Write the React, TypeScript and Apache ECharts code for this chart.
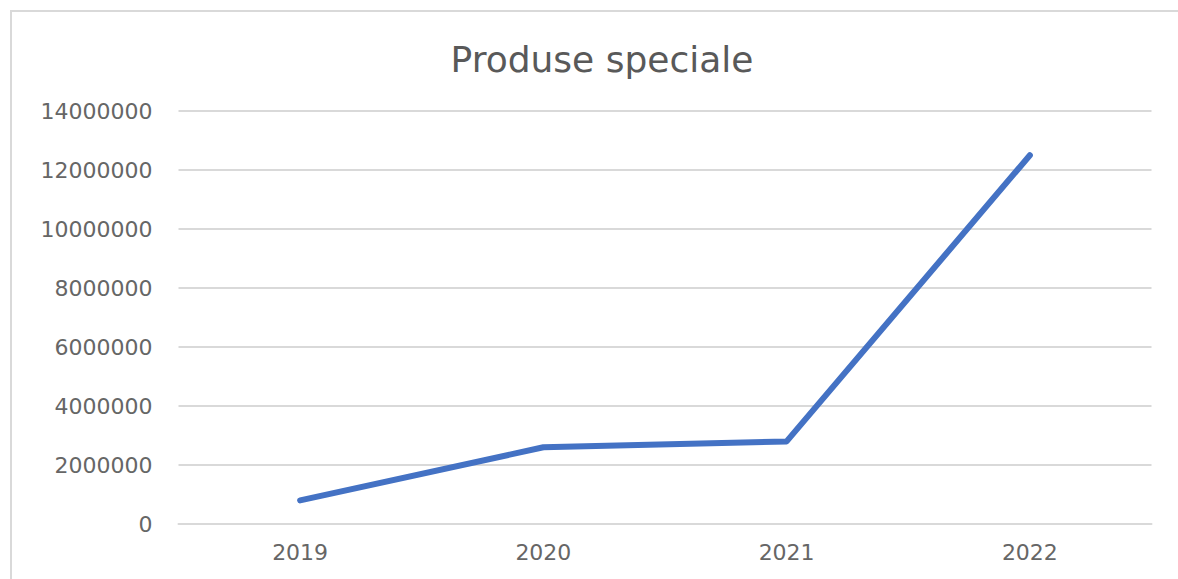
import React, { useEffect, useRef } from "react";
import * as echarts from "echarts";

const title = "Produse speciale";
const years = ["2019", "2020", "2021", "2022"];
const values = [800000, 2600000, 2800000, 12500000];
const yMin = 0;
const yMax = 14000000;
const yStep = 2000000;

export default function App() {
  const ref = useRef<HTMLDivElement>(null);
  useEffect(() => {
    if (!ref.current) return;
    const chart = echarts.init(ref.current, undefined, { renderer: "svg" });
    chart.setOption({
      animation: false,
      backgroundColor: "#ffffff",
      title: {
        text: title,
        left: 597,
        textAlign: "center",
        top: 36,
        textStyle: { fontFamily: "DejaVu Sans", fontSize: 36, fontWeight: "normal", color: "#595959" },
      },
      graphic: [
        {
          type: "rect",
          shape: { x: 11, y: 11, width: 1300, height: 620 },
          style: { fill: "none", stroke: "#d9d9d9", lineWidth: 2 },
          silent: true,
        },
      ],
      grid: { left: 178.5, right: 26.5, top: 111, bottom: 55, containLabel: false },
      xAxis: {
        type: "category",
        data: years,
        boundaryGap: true,
        axisLine: { show: true, lineStyle: { color: "#d9d9d9", width: 2 } },
        axisTick: { show: false },
        axisLabel: { color: "#666666", fontFamily: "DejaVu Sans", fontSize: 22, margin: 17 },
      },
      yAxis: {
        type: "value",
        min: yMin,
        max: yMax,
        interval: yStep,
        axisLine: { show: false },
        axisTick: { show: false },
        splitLine: { lineStyle: { color: "#d9d9d9", width: 2 } },
        axisLabel: {
          color: "#666666",
          fontFamily: "DejaVu Sans",
          fontSize: 22,
          margin: 26,
          formatter: (v: number) => String(v),
        },
      },
      series: [
        {
          type: "line",
          data: values,
          symbol: "none",
          lineStyle: { color: "#4472C4", width: 6, cap: "round", join: "round" },
        },
      ],
    });
    return () => chart.dispose();
  }, []);
  return <div ref={ref} style={{ position: "absolute", left: 0, top: 0, width: 1178, height: 579 }} />;
}
